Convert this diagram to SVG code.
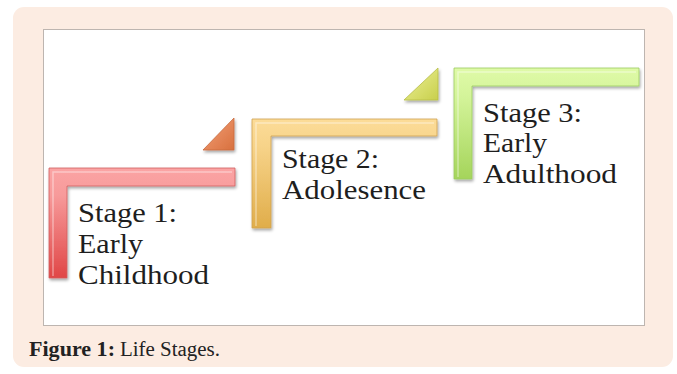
<svg xmlns="http://www.w3.org/2000/svg" width="677" height="374" viewBox="0 0 677 374">
<defs>
<style>
.lbl{font-family:"Liberation Serif","Times New Roman",serif;font-size:28px;fill:#1e1e1e}
.cap{font-family:"Liberation Serif","Times New Roman",serif;font-size:20px;fill:#222}
.hl{fill:none;stroke:#ffffff;stroke-opacity:0.4;stroke-width:1.5}
</style>
<filter id="sh" x="-10%" y="-10%" width="130%" height="130%">
<feDropShadow dx="1" dy="2" stdDeviation="1.4" flood-color="#000" flood-opacity="0.35"/>
</filter>
<linearGradient id="g1" gradientUnits="userSpaceOnUse" x1="0" y1="168" x2="0" y2="278">
<stop offset="0" stop-color="#fba4a4"/><stop offset="0.25" stop-color="#f79a9a"/><stop offset="1" stop-color="#e04646"/>
</linearGradient>
<linearGradient id="g2" gradientUnits="userSpaceOnUse" x1="0" y1="119" x2="0" y2="228">
<stop offset="0" stop-color="#fcdc98"/><stop offset="0.25" stop-color="#f7d389"/><stop offset="1" stop-color="#e0ad4a"/>
</linearGradient>
<linearGradient id="g3" gradientUnits="userSpaceOnUse" x1="0" y1="68" x2="0" y2="180">
<stop offset="0" stop-color="#dffaa8"/><stop offset="0.25" stop-color="#d4f49a"/><stop offset="1" stop-color="#a4d45a"/>
</linearGradient>
<linearGradient id="t1" x1="0" y1="0" x2="1" y2="1">
<stop offset="0" stop-color="#f4a27a"/><stop offset="1" stop-color="#d8703e"/>
</linearGradient>
<linearGradient id="t2" x1="0" y1="0" x2="1" y2="1">
<stop offset="0" stop-color="#eef29a"/><stop offset="1" stop-color="#c8cf4c"/>
</linearGradient>
</defs>
<rect x="13" y="7" width="660" height="360" rx="11" fill="#fcece2"/>
<rect x="43.5" y="29.5" width="601" height="296" fill="#ffffff" stroke="#bdb5b0" stroke-width="1"/>
<g id="connectors"/>
<g id="stage1">
<path d="M49,168 H235 V186 H67 V278 H49 Z" fill="url(#g1)" stroke="#d06060" stroke-width="0.8" filter="url(#sh)"/>
<path class="hl" d="M53,276 V172 H232"/>
<text class="lbl" x="78" y="222" textLength="99" lengthAdjust="spacingAndGlyphs">Stage 1:</text>
<text class="lbl" x="78" y="253" textLength="65" lengthAdjust="spacingAndGlyphs">Early</text>
<text class="lbl" x="78" y="284" textLength="131" lengthAdjust="spacingAndGlyphs">Childhood</text>
</g>
<g id="arrow1">
<polygon points="203,150 234,150 234,118" fill="url(#t1)" stroke="#c86a3c" stroke-width="0.8" filter="url(#sh)"/>
</g>
<g id="stage2">
<path d="M252,119 H437 V136 H271 V228 H252 Z" fill="url(#g2)" stroke="#cfa250" stroke-width="0.8" filter="url(#sh)"/>
<path class="hl" d="M256,226 V123 H434"/>
<text class="lbl" x="282" y="168" textLength="97" lengthAdjust="spacingAndGlyphs">Stage 2:</text>
<text class="lbl" x="282" y="199" textLength="144" lengthAdjust="spacingAndGlyphs">Adolesence</text>
</g>
<g id="arrow2">
<polygon points="404,100 438,100 438,68" fill="url(#t2)" stroke="#b8be48" stroke-width="0.8" filter="url(#sh)"/>
</g>
<g id="stage3">
<path d="M454,68 H639 V86 H472 V179 H454 Z" fill="url(#g3)" stroke="#9ccb60" stroke-width="0.8" filter="url(#sh)"/>
<path class="hl" d="M458,177 V72 H636"/>
<text class="lbl" x="483" y="122" textLength="99" lengthAdjust="spacingAndGlyphs">Stage 3:</text>
<text class="lbl" x="483" y="152" textLength="64" lengthAdjust="spacingAndGlyphs">Early</text>
<text class="lbl" x="483" y="183" textLength="134" lengthAdjust="spacingAndGlyphs">Adulthood</text>
</g>
<text class="cap" x="29" y="356"><tspan font-weight="bold" textLength="86" lengthAdjust="spacingAndGlyphs">Figure 1:</tspan></text>
<text class="cap" x="120" y="356" textLength="100" lengthAdjust="spacingAndGlyphs">Life Stages.</text>
</svg>
